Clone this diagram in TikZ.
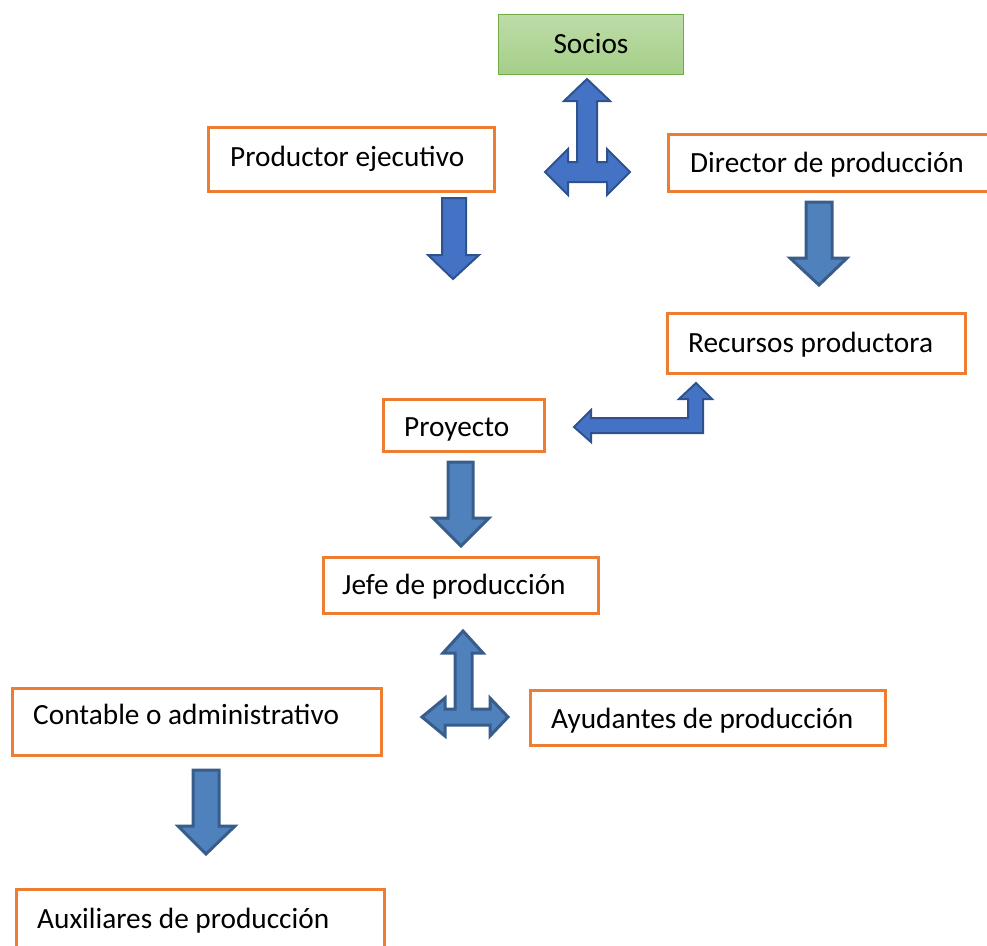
\documentclass[tikz,border=0pt]{standalone}
\usepackage{fontspec}
\setmainfont{Carlito}
\definecolor{boxorange}{HTML}{ED7D31}
\definecolor{sgreenT}{HTML}{BDDCA9}
\definecolor{sgreenB}{HTML}{A5CF88}
\definecolor{sgreenL}{HTML}{70AD47}
\definecolor{arrA}{HTML}{4472C4}
\definecolor{arrAline}{HTML}{2F528F}
\definecolor{arrB}{HTML}{4F81BD}
\definecolor{arrBline}{HTML}{385D8A}
\begin{document}
\begin{tikzpicture}[x=1pt,y=-1pt,
  box/.style={draw=boxorange,line width=3pt,anchor=north west,inner sep=0pt},
  greenbox/.style={draw=sgreenL,line width=1.2pt,top color=sgreenT,bottom color=sgreenB,anchor=north west,inner sep=0pt},
  lbl/.style={anchor=base west,inner sep=0pt,font=\fontsize{29.3}{34}\selectfont},
  arrowA/.style={fill=arrA,draw=arrAline,line width=2pt,line join=miter},
  arrowB/.style={fill=arrB,draw=arrBline,line width=3pt,line join=miter}]
\useasboundingbox (0,0) rectangle (987,945);
\clip (0,0) rectangle (987,945);

% Boxes
\node[greenbox,minimum width=185pt,minimum height=60pt] (socios) at (498,14) {};
\node[anchor=base,inner sep=0pt,font=\fontsize{29.3}{34}\selectfont] (sociosT) at (591,53) {Socios};

\node[box,minimum width=286pt,minimum height=64pt] (prod) at (207,126) {};
\node[lbl] (prodT) at (230,166) {Productor ejecutivo};

\node[box,minimum width=340pt,minimum height=57pt] (dir) at (667,133) {};
\node[lbl] (dirT) at (690,172) {Director de producción};

\node[box,minimum width=298pt,minimum height=60pt] (rec) at (666,312) {};
\node[lbl] (recT) at (688,352) {Recursos productora};

\node[box,minimum width=161pt,minimum height=52pt] (proy) at (382,398) {};
\node[lbl] (proyT) at (404,436) {Proyecto};

\node[box,minimum width=275pt,minimum height=56pt] (jefe) at (322,556) {};
\node[lbl] (jefeT) at (342,594) {Jefe de producción};

\node[box,minimum width=369pt,minimum height=67pt] (cont) at (11,687) {};
\node[lbl] (contT) at (33,724) {Contable o administrativo};

\node[box,minimum width=355pt,minimum height=55pt] (ayud) at (529,689) {};
\node[lbl] (ayudT) at (551,728) {Ayudantes de producción};

\node[box,minimum width=368pt,minimum height=80pt] (aux) at (15,888) {};
\node[lbl] (auxT) at (37,928) {Auxiliares de producción};

% T arrow under Socios (up, left, right)
\draw[arrowA] (587,79) -- (610,101) -- (597,101) -- (597,162) -- (607,162) -- (607,149)
  -- (630,172) -- (607,195) -- (607,182) -- (568,182) -- (568,195) -- (545,172)
  -- (568,149) -- (568,162) -- (577,162) -- (577,101) -- (564,101) -- cycle;

% Down arrow under Productor ejecutivo
\draw[arrowA] (442,198) -- (466,198) -- (466,255) -- (479,255) -- (453,279) -- (428,255) -- (442,255) -- cycle;

% Down arrow under Director de produccion
\draw[arrowB] (806,202) -- (832,202) -- (832,258) -- (847,258) -- (819,285) -- (790,258) -- (806,258) -- cycle;

% Bent arrow Recursos -> Proyecto
\draw[arrowA] (574,427) -- (591,410) -- (591,418) -- (688,418) -- (688,399) -- (679,399)
  -- (696,383) -- (712,399) -- (703,399) -- (703,433) -- (591,433) -- (591,442) -- cycle;

% Down arrow under Proyecto
\draw[arrowB] (448,462) -- (473,462) -- (473,518) -- (489,518) -- (461,546) -- (433,518) -- (448,518) -- cycle;

% T arrow under Jefe de produccion
\draw[arrowB] (463,631) -- (483,653) -- (472,653) -- (472,709) -- (490,709) -- (490,698)
  -- (508,717) -- (490,736) -- (490,725) -- (445,725) -- (445,736) -- (422,717)
  -- (445,698) -- (445,709) -- (455,709) -- (455,653) -- (443,653) -- cycle;

% Down arrow under Contable
\draw[arrowB] (193,770) -- (219,770) -- (219,826) -- (235,826) -- (206,854) -- (178,826) -- (193,826) -- cycle;
\end{tikzpicture}
\end{document}
